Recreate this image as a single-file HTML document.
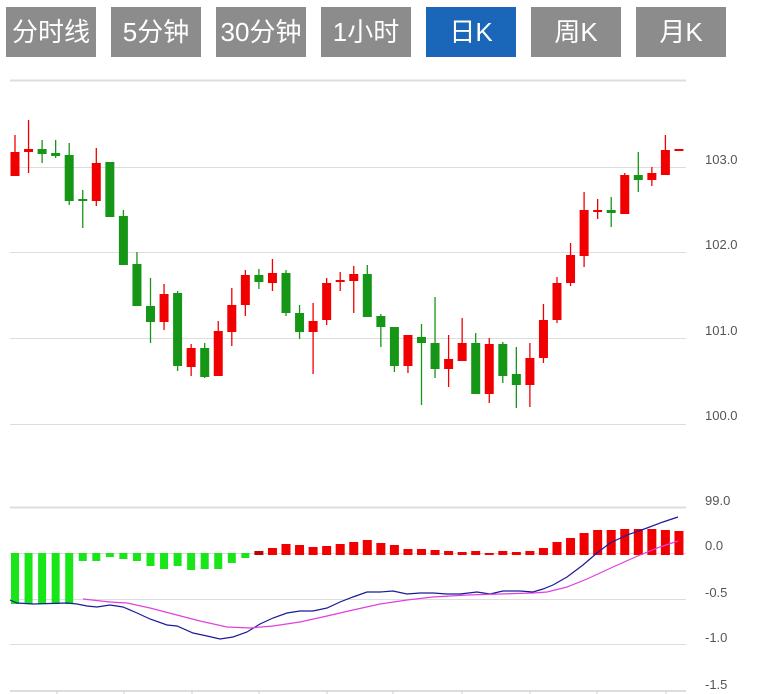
<!DOCTYPE html>
<html><head><meta charset="utf-8"><style>
body{margin:0;background:#fff;width:762px;height:694px;overflow:hidden;font-family:"Liberation Sans","Noto Sans CJK SC",sans-serif}
.b{position:absolute;top:7px;width:90px;height:50px;background:#8c8c8c;color:#fff;font-size:26px;line-height:50px;text-align:center;font-family:"Liberation Sans","Noto Sans CJK SC",sans-serif}
.a{background:#1a66b8}
svg{position:absolute;left:0;top:0}
</style></head><body>
<div class="b" style="left:6px">分时线</div>
<div class="b" style="left:111px">5分钟</div>
<div class="b" style="left:216px">30分钟</div>
<div class="b" style="left:321px">1小时</div>
<div class="b a" style="left:426px">日K</div>
<div class="b" style="left:531px">周K</div>
<div class="b" style="left:636px">月K</div>
<svg id="s" width="762" height="694" xmlns="http://www.w3.org/2000/svg">
<g stroke="#ddd" stroke-width="1">
<line x1="10" y1="80.5" x2="686" y2="80.5" stroke-width="2"/>
<line x1="10" y1="167.5" x2="686" y2="167.5"/>
<line x1="10" y1="252.5" x2="686" y2="252.5"/>
<line x1="10" y1="338.5" x2="686" y2="338.5"/>
<line x1="10" y1="424.5" x2="686" y2="424.5"/>
<line x1="10" y1="507.5" x2="686" y2="507.5" stroke-width="2"/>
<line x1="10" y1="553.5" x2="686" y2="553.5"/>
<line x1="10" y1="599.5" x2="686" y2="599.5"/>
<line x1="10" y1="644.5" x2="686" y2="644.5"/>
<line x1="10" y1="691" x2="686" y2="691" stroke-width="2"/>
</g>
<g stroke="#ccc"><line x1="57" y1="691" x2="57" y2="694"/><line x1="124" y1="691" x2="124" y2="694"/><line x1="192" y1="691" x2="192" y2="694"/><line x1="259" y1="691" x2="259" y2="694"/><line x1="327" y1="691" x2="327" y2="694"/><line x1="393" y1="691" x2="393" y2="694"/><line x1="462" y1="691" x2="462" y2="694"/><line x1="530" y1="691" x2="530" y2="694"/><line x1="597" y1="691" x2="597" y2="694"/><line x1="666" y1="691" x2="666" y2="694"/></g>
<g font-family="Liberation Sans,sans-serif" font-size="13" fill="#555">
<text x="705" y="164">103.0</text><text x="705" y="249">102.0</text><text x="705" y="335">101.0</text><text x="705" y="420">100.0</text>
<text x="705" y="505">99.0</text><text x="705" y="550">0.0</text><text x="705" y="597">-0.5</text><text x="705" y="642">-1.0</text><text x="705" y="689">-1.5</text>
</g>
<g id="c"></g>
<polyline fill="none" stroke="#1a1a9a" stroke-width="1.2" points="10,600 17,603 33,604 67,603 77,604 87,606 97,607 110,605 123,607 137,613 150,619 167,625 177,626 193,633 207,636 220,639 233,637 247,632 260,624 273,618 287,613 300,611 313,611 327,608 340,602 353,597 367,592 380,592 393,591 407,594 420,593 433,593 447,594 460,594 477,592 490,594 503,591 520,591 533,592 543,589 553,585 567,577 583,565 597,553 610,543 627,535 647,528 663,522 678,517"/>
<polyline fill="none" stroke="#e040e0" stroke-width="1.2" points="83,599 110,602 127,603 150,608 173,614 200,621 227,627 250,628 273,626 300,622 327,616 353,610 380,604 407,600 433,597 467,595 500,594 533,593 547,592 567,587 587,579 613,567 640,555 660,547 678,541"/>
</svg>
<script>
var C=[["r",152,176,135,176],["r",149,152,120,173],["g",149,154,140,163],["g",153,156,140,158],["g",155,201,143,205],["g",199,201,190,228],["r",163,201,148,206],["g",162,217,162,217],["g",216,265,210,265],["g",264,306,252,306],["g",306,322,278,343],["r",294,322,284,330],["g",293,366,291,371],["r",348,367,344,376],["g",348,377,343,378],["r",331,376,321,376],["r",305,332,288,346],["r",275,305,270,316],["g",275,282,269,289],["r",273,283,259,291],["g",273,313,270,316],["g",313,332,305,339],["r",321,332,303,374],["r",283,320,278,325],["r",280,282,272,291],["r",274,281,266,313],["g",274,317,265,317],["g",316,327,314,347],["g",327,366,327,372],["r",335,366,335,373],["g",337,343,324,405],["g",343,369,297,378],["r",359,369,335,387],["r",343,361,318,361],["g",343,394,333,394],["r",344,394,338,403],["g",344,376,342,383],["g",374,385,347,408],["r",358,385,343,407],["r",320,358,304,363],["r",283,320,277,323],["r",255,283,243,286],["r",210,256,192,267],["r",210,211,199,219],["g",210,213,197,227],["r",175,214,173,214],["g",175,180,152,192],["r",173,180,167,186],["r",150,175,135,175],["r",149,151,149,151]];
var H=[604,604,604,604,604,561,561,557,559,561,566,569,566,570,569,569,563,558,551,548,544,545,547,546,544,542,540,543,545,549,549,550,551,552,551,553,551,552,551,548,542,538,533,530,530,529,529,529,530,531];
var g=document.getElementById("c"),s="";
for(var i=0;i<C.length;i++){var c=C[i],x=15+i*13.55,col=c[0]=="r"?"#f00000":"#169616";
s+='<line x1="'+x+'" y1="'+c[3]+'" x2="'+x+'" y2="'+c[4]+'" stroke="'+col+'" stroke-width="1.3"/>';
s+='<rect x="'+(x-4.5)+'" y="'+c[1]+'" width="9" height="'+Math.max(2,c[2]-c[1])+'" fill="'+col+'"/>';
var h=H[i];
if(h>553)s+='<rect x="'+(x-4)+'" y="553" width="8" height="'+(h-553)+'" fill="#19e619"/>';
else s+='<rect x="'+(x-4.5)+'" y="'+h+'" width="9" height="'+Math.max(2,555-h)+'" fill="'+(i==18?"#c00000":"#f00000")+'"/>';}
g.innerHTML=s;
</script>
</body></html>
